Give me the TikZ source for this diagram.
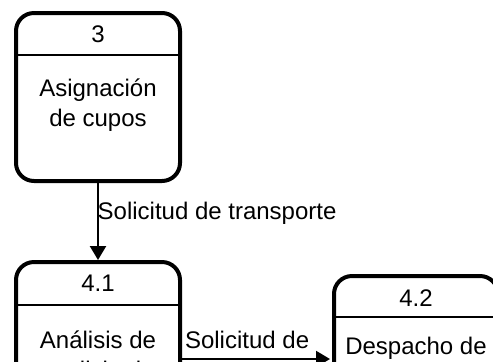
\documentclass[tikz,border=0pt]{standalone}
\usepackage{fontspec}
\setmainfont{Liberation Sans}
\usetikzlibrary{positioning,arrows.meta}

\begin{document}
\begin{tikzpicture}[x=1pt, y=1pt, every node/.style={font=\fontsize{12}{15}\selectfont},
  procbox/.style={draw, line width=2pt, rounded corners=9pt, minimum width=82pt},
  flow/.style={-{Triangle[width=8pt,length=7pt]}, line width=1.1pt}]
\useasboundingbox (0,0) rectangle (246.5,-180.5);
\clip (0,0) rectangle (246.5,-180.5);

% proceso 3
\node[procbox, minimum height=84pt] (p3) at (49,-48.5) {};
\node (n3) at (49,-17) {3};
\node[align=center] (t3) at (49,-52.5) {Asignación\\de cupos};
\draw[line width=1.2pt] (p3.west |- 0,-27.5) -- (p3.east |- 0,-27.5);

% proceso 4.1
\node[procbox, minimum height=80pt] (p41) at (49,-171) {};
\node (n41) at (49,-141.5) {4.1};
\node[align=center, anchor=north] (t41) at (49,-162) {Análisis de\\solicitud};
\draw[line width=1.2pt] (p41.west |- 0,-152.5) -- (p41.east |- 0,-152.5);

% proceso 4.2
\node[procbox, minimum height=80pt] (p42) at (208,-178) {};
\node (n42) at (208,-149) {4.2};
\node[anchor=north] (t42) at (208,-165) {Despacho de};
\draw[line width=1.2pt] (p42.west |- 0,-158.5) -- (p42.east |- 0,-158.5);

% flujos
\draw[flow] (p3) -- (p41);
\node[anchor=west] (f1) at (45.3,-106.5) {Solicitud de transporte};
\coordinate (a1) at (90,-179.5);
\draw[flow] (a1) -- ([xshift=-1pt]a1 -| p42.west);
\node[anchor=west] (f2) at (89,-170) {Solicitud de};
\end{tikzpicture}
\end{document}
